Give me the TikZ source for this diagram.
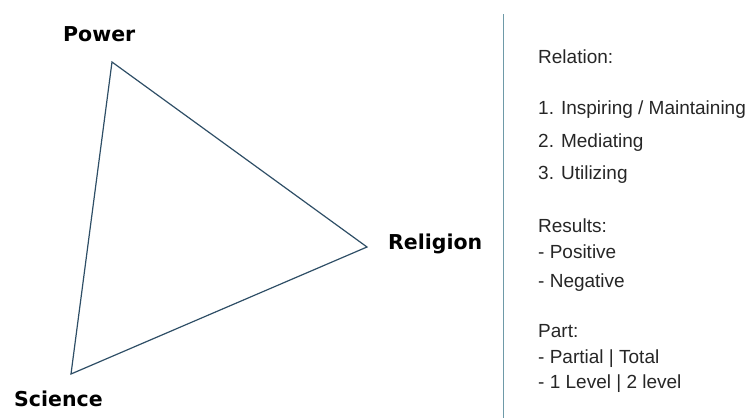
\documentclass[tikz,border=0pt]{standalone}
\usepackage{fontspec}
\setmainfont{Liberation Sans}
\newfontfamily\labelfont{DejaVu Sans}
\definecolor{triline}{HTML}{2E4E66}
\definecolor{sepline}{HTML}{6E9AA8}
\begin{document}
\begin{tikzpicture}[x=1pt,y=-1pt,
  vlabel/.style={font=\labelfont\bfseries\fontsize{20.5}{24}\selectfont, anchor=base west, inner sep=0pt, text=black},
  listtext/.style={font=\fontsize{19}{23}\selectfont, anchor=base west, inner sep=0pt, text=black!85},
  triedge/.style={draw=triline, line width=1.2pt, line join=miter}]
\useasboundingbox (0,0) rectangle (748,418);
\coordinate (P) at (112,62);
\coordinate (R) at (367,247);
\coordinate (S) at (71,374);
\draw[triedge] (P) -- (R) -- (S) -- cycle;
\node[vlabel] (lp) at (63,41) {Power};
\node[vlabel] (lr) at (388,249) {Religion};
\node[vlabel] (ls) at (14,406) {Science};
\coordinate (st) at (503,14);
\coordinate (sb) at (503,418);
\draw[sepline, line width=1pt] (st) -- (sb);
\node[listtext] (t1) at (538,63) {Relation:};
\node[listtext] (t2) at (538,114) {1. Inspiring / Maintaining};
\node[listtext] (t3) at (538,147) {2. Mediating};
\node[listtext] (t4) at (538,179) {3. Utilizing};
\node[listtext] (t5) at (538,232) {Results:};
\node[listtext] (t6) at (538,258) {- Positive};
\node[listtext] (t7) at (538,287) {- Negative};
\node[listtext] (t8) at (538,337) {Part:};
\node[listtext] (t9) at (538,363) {- Partial | Total};
\node[listtext] (t10) at (538,388) {- 1 Level | 2 level};
\end{tikzpicture}
\end{document}
